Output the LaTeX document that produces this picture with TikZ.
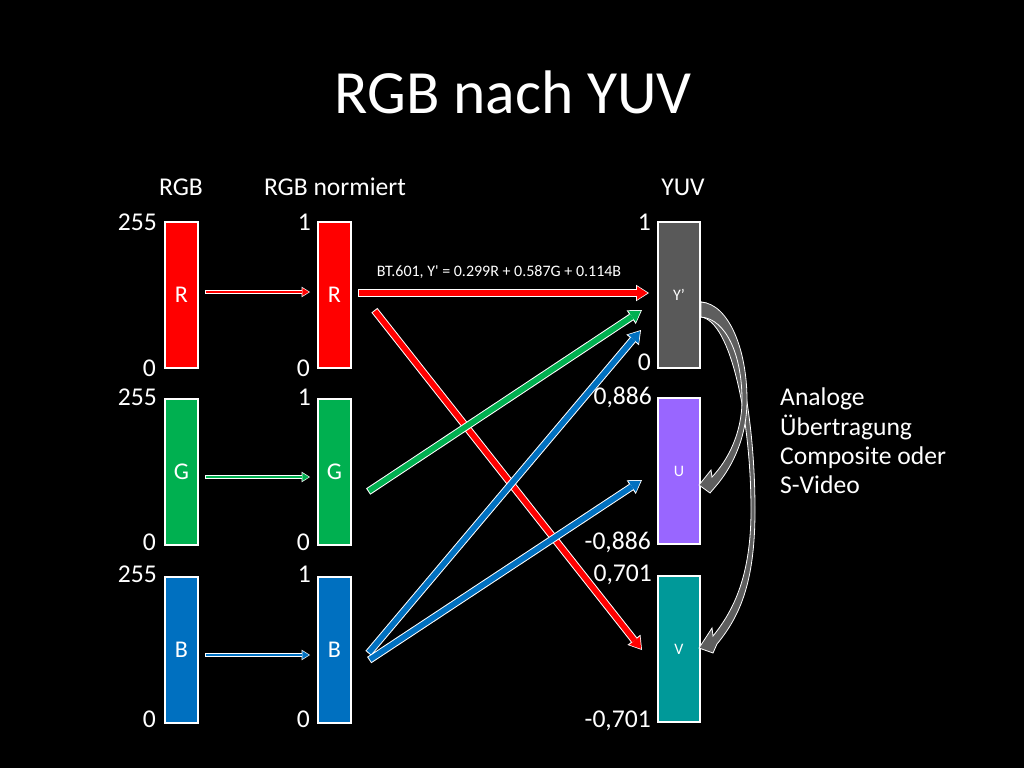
\documentclass[tikz,border=0pt]{standalone}
\usepackage{fontspec}
\newfontfamily\carl{Carlito}
\usetikzlibrary{arrows.meta}

\definecolor{rgbred}{HTML}{FF0000}
\definecolor{rgbgreen}{HTML}{00B050}
\definecolor{rgbblue}{HTML}{0070C0}
\definecolor{ygray}{HTML}{595959}
\definecolor{upurple}{HTML}{9966FF}
\definecolor{vteal}{HTML}{009999}
\definecolor{bandgray}{HTML}{5E5E5E}

\tikzset{
  box/.style={draw=white, line width=2pt, minimum width=33pt, minimum height=146pt,
    inner sep=0pt, text=white, font=\carl\fontsize{24}{28}\selectfont},
  ybox/.style={box, minimum width=42pt, font=\carl\fontsize{16}{19}\selectfont},
  lbl/.style={text=white, inner sep=0pt, font=\carl\fontsize{25.6}{30}\selectfont},
  formula/.style={text=white, inner sep=0pt, font=\carl\fontsize{16}{19}\selectfont},
  title/.style={text=white, inner sep=0pt, font=\carl\fontsize{61.5}{72}\selectfont},
  bigout/.style={draw=white, line width=7.6pt,
    -{Triangle[length=13pt,width=16.5pt,line width=0pt]}, shorten <=-1pt},
  bigin/.style={line width=5.6pt,
    -{Triangle[length=10.4pt,width=13.5pt,line width=0pt]}, shorten >=1.5pt},
  smallout/.style={draw=white, line width=4.6pt,
    -{Triangle[length=8.4pt,width=10.6pt,line width=0pt]}, shorten <=-0.8pt},
  smallin/.style={line width=2.8pt,
    -{Triangle[length=6.6pt,width=8pt,line width=0pt]}, shorten >=1.1pt},
  band/.style={fill=bandgray, draw=white, line width=0.8pt, line join=miter},
}

% outlined straight arrows: white rim underneath, coloured body on top
\newcommand\bigflow[3]{\draw[bigout] #2 -- #3; \draw[bigin, draw=#1] #2 -- #3;}
\newcommand\smallflow[3]{\draw[smallout] #2 -- #3; \draw[smallin, draw=#1] #2 -- #3;}

\begin{document}
\begin{tikzpicture}[x=1pt, y=-1pt]
  \fill[black] (0,0) rectangle (1024,768);
  \useasboundingbox (0,0) rectangle (1024,768);

  % title
  \node[title, anchor=base] (ttl) at (513,113) {RGB nach YUV};

  % column headers
  \node[lbl, anchor=base] (h1) at (181,195) {RGB};
  \node[lbl, anchor=base] (h2) at (335,195) {RGB normiert};
  \node[lbl, anchor=base] (h3) at (683,195) {YUV};

  % RGB 0..255
  \node[box, fill=rgbred]   (R) at (181.5,295)   {R};
  \node[box, fill=rgbgreen] (G) at (181.5,472)   {G};
  \node[box, fill=rgbblue]  (B) at (181.5,649.5) {B};

  % normalised RGB 0..1
  \node[box, fill=rgbred]   (Rn) at (334.5,295)   {R};
  \node[box, fill=rgbgreen] (Gn) at (334.5,472)   {G};
  \node[box, fill=rgbblue]  (Bn) at (334.5,649.5) {B};

  % YUV components
  \node[ybox, fill=ygray]   (Y) at (679,295) {Y’};
  \node[ybox, fill=upurple] (U) at (679,471) {U};
  \node[ybox, fill=vteal]   (V) at (679,649) {V};

  % scale labels
  \node[lbl, anchor=base east] (l1) at (157,230) {255};
  \node[lbl, anchor=base east] (l2) at (156,376) {0};
  \node[lbl, anchor=base east] (l3) at (157,405) {255};
  \node[lbl, anchor=base east] (l4) at (156,550) {0};
  \node[lbl, anchor=base east] (l5) at (157,582) {255};
  \node[lbl, anchor=base east] (l6) at (156,727) {0};

  \node[lbl, anchor=base east] (m1) at (311,230) {1};
  \node[lbl, anchor=base east] (m2) at (310,376) {0};
  \node[lbl, anchor=base east] (m3) at (311,405) {1};
  \node[lbl, anchor=base east] (m4) at (310,550) {0};
  \node[lbl, anchor=base east] (m5) at (311,582) {1};
  \node[lbl, anchor=base east] (m6) at (310,727) {0};

  \node[lbl, anchor=base east] (y1) at (651,230) {1};
  \node[lbl, anchor=base east] (y2) at (651,370) {0};
  \node[lbl, anchor=base east] (y3) at (652,404) {0,886};
  \node[lbl, anchor=base east] (y4) at (651,549) {-0,886};
  \node[lbl, anchor=base east] (y5) at (652,581) {0,701};
  \node[lbl, anchor=base east] (y6) at (651,727) {-0,701};

  % normalisation arrows
  \smallflow{rgbred}  {([shift={(7,-3)}]R.east)}   {([shift={(-7,-3)}]Rn.west)}
  \smallflow{rgbgreen}{([shift={(7,5)}]G.east)}    {([shift={(-7,5)}]Gn.west)}
  \smallflow{rgbblue} {([shift={(7,5.5)}]B.east)}  {([shift={(-7,5.5)}]Bn.west)}

  % conversion arrows
  \bigflow{rgbred}  {([shift={(23,16)}]Rn.east)}  {([shift={(-15,1)}]V.west)}
  \bigflow{rgbgreen}{([shift={(17,19)}]Gn.east)}  {([shift={(-15,15)}]Y.west)}
  \bigflow{rgbblue} {([shift={(17,3)}]Bn.east)}   {([shift={(-16,35)}]Y.west)}
  \bigflow{rgbblue} {([shift={(18,10)}]Bn.east)}  {([shift={(-15,9)}]U.west)}
  \bigflow{rgbred}  {([shift={(7,-2)}]Rn.east)}   {([shift={(-8,-2)}]Y.west)}

  \node[formula, anchor=base] (bt) at (499,276) {BT.601, Y' = 0.299R + 0.587G + 0.114B};

  % curved band arrows from Y' to V and U
  \begin{scope}[shift={(Y.east)}]
    \draw[band] (0,7) .. controls (35,9) and (54,120) .. (54,215)
      .. controls (54,285) and (40,320) .. (16,349)
      -- (12,358) -- (-2,353) -- (11,333) -- (12,341)
      .. controls (33,315) and (50,280) .. (50,215)
      .. controls (50,125) and (30,26) .. (0,22) -- cycle;
    \draw[band] (0,7) .. controls (28,9) and (46,55) .. (46,105)
      .. controls (46,140) and (33,170) .. (15,191)
      -- (9,198) -- (-2,190) -- (10,175) -- (11,182)
      .. controls (27,165) and (41,138) .. (41,105)
      .. controls (41,60) and (25,24) .. (0,22) -- cycle;
  \end{scope}

  % side note
  \node[lbl, anchor=base west] (n1) at (780,405) {Analoge};
  \node[lbl, anchor=base west] (n2) at (780,435) {Übertragung};
  \node[lbl, anchor=base west] (n3) at (780,464) {Composite oder};
  \node[lbl, anchor=base west] (n4) at (780,493) {S-Video};
\end{tikzpicture}
\end{document}
